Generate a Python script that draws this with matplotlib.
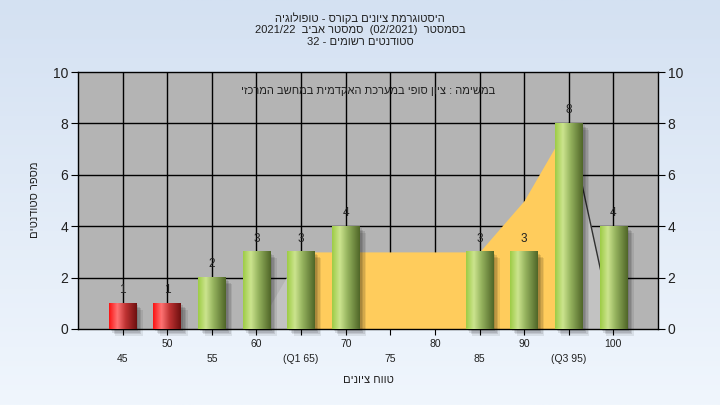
import numpy as np
import matplotlib
matplotlib.use("Agg")
import matplotlib.pyplot as plt
from matplotlib.patches import Rectangle

plt.rcParams['font.family'] = ['Liberation Sans', 'DejaVu Sans']

# ---------------- data ----------------
categories = [45, 50, 55, 60, 65, 70, 75, 80, 85, 90, 95, 100]
tick_labels = ['45', '50', '55', '60', '(Q1 65)', '70', '75', '80', '85', '90', '(Q3 95)', '100']
counts = [1, 1, 2, 3, 3, 4, 0, 0, 3, 3, 8, 4]
bar_kind = ['fail', 'fail', 'pass', 'pass', 'pass', 'pass', 'pass', 'pass', 'pass', 'pass', 'pass', 'pass']
area_values = [0, 0, 0, 0, 3, 3, 3, 3, 3, 5, 8, 0]
q1_index = 4
q3_index = 10
y_ticks = [0, 2, 4, 6, 8, 10]

title1 = "היסטוגרמת ציונים בקורס - טופולוגיה"
title2_words = ("בסמסטר", "(02/2021)", "סמסטר אביב", "2021/22")
title3_words = ("סטודנטים רשומים", "-", "32")
note = "במשימה : ציון סופי במערכת האקדמית במחשב המרכזי"
ylabel = "מספר סטודנטים"
xlabel = "טווח ציונים"


def heb(s):
    """visual order for a pure-Hebrew string (no bidi in matplotlib)"""
    return s[::-1]


def heb_mixed(words, sep="  "):
    """words in logical RTL order; Hebrew words reversed, numbers kept"""
    out = []
    for w in words:
        if any('\u0590' <= c <= '\u05ff' for c in w):
            out.append(w[::-1])
        else:
            out.append(w)
    return sep.join(out[::-1])


W, H = 720, 405
fig = plt.figure(figsize=(7.2, 4.05), dpi=100)

# background gradient
bg = fig.add_axes([0, 0, 1, 1], zorder=-10)
top_c = np.array([212, 225, 242]) / 255
bot_c = np.array([240, 246, 253]) / 255
t = np.linspace(0, 1, 256)[:, None]
grad = top_c[None, :] * (1 - t)[:, :, None][:, 0, :] + bot_c[None, :] * t
grad = grad[:, None, :].repeat(2, axis=1)
bg.imshow(grad, aspect='auto', extent=[0, 1, 0, 1])
bg.axis('off')

L, R, T, B = 78, 658, 72, 329
ax = fig.add_axes([L / W, 1 - B / H, (R - L) / W, (B - T) / H])
ax.set_facecolor('#b4b4b4')

x = np.arange(len(categories))

# grid
for yv in y_ticks[1:-1]:
    ax.axhline(yv, color='black', lw=1.0, zorder=1)
for xv in x:
    ax.axvline(xv, color='black', lw=1.0, zorder=1)

# distribution area
av = np.array(area_values, dtype=float)
ax.fill_between(x[q1_index - 1:q1_index + 1], av[q1_index - 1:q1_index + 1], 0,
                color='#c2c2c2', lw=0, zorder=2)
ax.fill_between(x[q1_index:q3_index + 1], av[q1_index:q3_index + 1], 0,
                color='#ffcc5c', lw=0, zorder=2)
ax.fill_between(x[q3_index:q3_index + 2], av[q3_index:q3_index + 2], 0,
                color='#c2c2c2', lw=0, zorder=2)
ax.plot(x[q3_index:q3_index + 2], av[q3_index:q3_index + 2], color='#303030', lw=1.0, zorder=2.1)


def make_grad(stops):
    pos = np.array([s[0] for s in stops])
    cols = np.array([s[1] for s in stops]) / 255.0
    xs = np.linspace(0, 1, 64)
    arr = np.stack([np.interp(xs, pos, cols[:, k]) for k in range(3)], axis=-1)
    return arr[None, :, :]


green = make_grad([(0, (158, 204, 70)), (0.28, (204, 228, 142)), (0.55, (150, 180, 95)), (1.0, (80, 102, 40))])
red = make_grad([(0, (250, 20, 20)), (0.3, (255, 115, 115)), (0.6, (190, 50, 50)), (1.0, (110, 15, 15))])

bw = 0.62
unit_px = (R - L) / 13.0
ypx = (B - T) / 10.0
for xi, c, k in zip(x, counts, bar_kind):
    if c <= 0:
        continue
    x0 = xi - bw / 2
    # shadow
    for j, a in enumerate([0.10, 0.10, 0.10, 0.08]):
        off = (2 + j * 1.5) / unit_px
        offy = (2 + j * 1.5) / ypx
        ax.add_patch(Rectangle((x0 + off, -offy), bw, c, facecolor='black', alpha=a,
                               lw=0, zorder=2.5, clip_on=False))
    g = red if k == 'fail' else green
    ax.imshow(g, extent=[x0, x0 + bw, 0, c], aspect='auto', zorder=3, interpolation='bilinear')
    ax.text(xi, c + 0.52, str(c), ha='center', va='center', fontsize=8.5, color='#202020', zorder=4)

ax.set_xlim(-1, 12)
ax.set_ylim(0, 10)
ax.set_yticks(y_ticks)
ax.tick_params(axis='y', labelsize=10, length=5, color='black', labelcolor='#202020',
               left=True, right=True, labelleft=True, labelright=True, pad=2)
ax.set_xticks(x)
ax.set_xticklabels([])
ax.tick_params(axis='x', length=4, color='black')
for sp in ax.spines.values():
    sp.set_color('black')
    sp.set_linewidth(1.0)

# two-row x labels
for i, lab in enumerate(tick_labels):
    row_y = -0.58 if i % 2 == 1 else -1.16
    ax.text(i, row_y, lab, ha='center', va='center', fontsize=7.5, color='#202020', clip_on=False)

ax.text(0.5, 0.945, heb(note), transform=ax.transAxes, ha='center', va='top',
        fontsize=8, color='#202020')

fig.text(368 / W, 1 - 380 / H, heb(xlabel), ha='center', va='center', fontsize=8, color='#202020')
fig.text(35 / W, 1 - 200 / H, heb(ylabel), ha='center', va='center', rotation=90, fontsize=8, color='#202020')

fig.text(360 / W, 1 - 18 / H, heb(title1), ha='center', va='center', fontsize=8, color='#202020')
fig.text(360 / W, 1 - 30 / H, heb_mixed(title2_words), ha='center', va='center', fontsize=8, color='#202020')
fig.text(360 / W, 1 - 42 / H, heb_mixed(title3_words, sep=" "), ha='center', va='center', fontsize=8, color='#202020')

fig.savefig('out.png', dpi=100)
